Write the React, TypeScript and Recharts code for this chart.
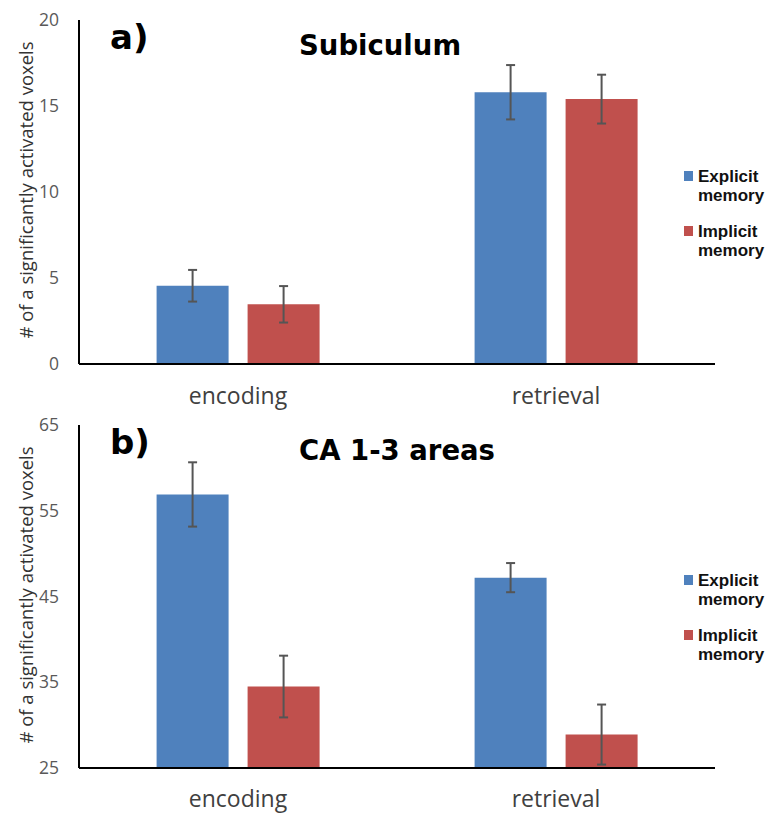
import React from "react";
import { BarChart, Bar, XAxis, YAxis, ErrorBar, Legend } from "recharts";

const categories = ["encoding", "retrieval"];
const seriesNames = ["Explicit memory", "Implicit memory"];

const subiculumExplicit = [4.55, 15.8];
const subiculumExplicitErr = [0.92, 1.58];
const subiculumImplicit = [3.47, 15.4];
const subiculumImplicitErr = [1.06, 1.42];
const subiculumTicks = [0, 5, 10, 15, 20];

const caExplicit = [56.9, 47.2];
const caExplicitErr = [3.75, 1.7];
const caImplicit = [34.5, 28.9];
const caImplicitErr = [3.6, 3.5];
const caTicks = [25, 35, 45, 55, 65];

const BLUE = "#4F81BD";
const RED = "#C0504D";
const yTitle = "# of a significantly activated voxels";

const buildData = (exp: number[], expErr: number[], imp: number[], impErr: number[]) =>
  categories.map((c, i) => ({
    name: c,
    explicit: exp[i],
    explicitErr: expErr[i],
    implicit: imp[i],
    implicitErr: impErr[i],
  }));

const LegendBox = ({ payload }: any) => (
  <div style={{ fontFamily: "'Liberation Sans', Arial, sans-serif", fontWeight: 700, fontSize: 17, color: "#111" }}>
    {(payload || []).map((p: any, i: number) => {
      const words = String(p.value).split(" ");
      return (
        <div key={i} style={{ display: "flex", alignItems: "flex-start", marginBottom: i === 0 ? 17 : 0 }}>
          <div style={{ width: 9, height: 10, background: p.color, marginTop: 4, marginRight: 5 }} />
          <div style={{ lineHeight: "19px" }}>
            <div>{words[0]}</div>
            <div>{words.slice(1).join(" ")}</div>
          </div>
        </div>
      );
    })}
  </div>
);

type PanelProps = {
  top: number;
  height: number;
  xAxisHeight: number;
  tickGap: number;
  legendTop: number;
  data: any[];
  ticks: number[];
  letter: string;
  title: string;
};

const Panel = ({ top, height, xAxisHeight, tickGap, legendTop, data, ticks, letter, title }: PanelProps) => {
  const plotTop = 20;
  const plotBottom = height - xAxisHeight;
  return (
    <div style={{ position: "absolute", left: 0, top, width: 772, height }}>
      <BarChart
        width={772}
        height={height}
        data={data}
        margin={{ top: plotTop, right: 57, left: 29, bottom: 0 }}
        barCategoryGap="24.4%"
        barGap={19}
      >
        <XAxis
          dataKey="name"
          height={xAxisHeight}
          tickLine={false}
          axisLine={{ stroke: "#000", strokeWidth: 2 }}
          tickMargin={tickGap}
          tick={{ fontSize: 23, fill: "#404040", fontFamily: "'Open Sans', sans-serif" }}
        />
        <YAxis
          width={50}
          domain={[ticks[0], ticks[ticks.length - 1]]}
          ticks={ticks}
          tickLine={false}
          axisLine={{ stroke: "#000", strokeWidth: 2 }}
          tickMargin={14}
          tick={{ fontSize: 17.5, fill: "#595959", fontFamily: "'Open Sans', sans-serif" }}
        />
        <Legend
          layout="vertical"
          align="center"
          verticalAlign="middle"
          wrapperStyle={{ left: 684, top: legendTop, width: 88 }}
          content={<LegendBox />}
        />
        <Bar dataKey="explicit" name={seriesNames[0]} fill={BLUE} isAnimationActive={false}>
          <ErrorBar dataKey="explicitErr" width={4.5} strokeWidth={2} stroke="#555" direction="y" />
        </Bar>
        <Bar dataKey="implicit" name={seriesNames[1]} fill={RED} isAnimationActive={false}>
          <ErrorBar dataKey="implicitErr" width={4.5} strokeWidth={2} stroke="#555" direction="y" />
        </Bar>
      </BarChart>
      <div
        style={{
          position: "absolute",
          left: 25,
          top: (plotTop + plotBottom) / 2 - 2,
          transform: "translate(-50%, -50%) rotate(-90deg)",
          whiteSpace: "nowrap",
          fontFamily: "'Open Sans', sans-serif",
          fontSize: 18.5,
          color: "#333",
        }}
      >
        {yTitle}
      </div>
      <div
        style={{
          position: "absolute",
          left: 110,
          top: 20,
          fontFamily: "'DejaVu Sans', sans-serif",
          fontWeight: 700,
          fontSize: 34,
          color: "#000",
          lineHeight: 1,
        }}
      >
        {letter}
      </div>
      <div
        style={{
          position: "absolute",
          left: 299,
          top: 32,
          fontFamily: "'DejaVu Sans', sans-serif",
          fontWeight: 700,
          fontSize: 27.5,
          color: "#000",
          lineHeight: 1,
        }}
      >
        {title}
      </div>
    </div>
  );
};

const App = () => {
  const topData = buildData(subiculumExplicit, subiculumExplicitErr, subiculumImplicit, subiculumImplicitErr);
  const bottomData = buildData(caExplicit, caExplicitErr, caImplicit, caImplicitErr);
  return (
    <div style={{ position: "absolute", left: 0, top: 0, width: 772, height: 815, background: "#fff" }}>
      <Panel top={0} height={415} xAxisHeight={51} tickGap={18} legendTop={167} data={topData} ticks={subiculumTicks} letter="a)" title="Subiculum" />
      <Panel top={405} height={410} xAxisHeight={47} tickGap={17} legendTop={166} data={bottomData} ticks={caTicks} letter="b)" title="CA 1-3 areas" />
    </div>
  );
};

export default App;
